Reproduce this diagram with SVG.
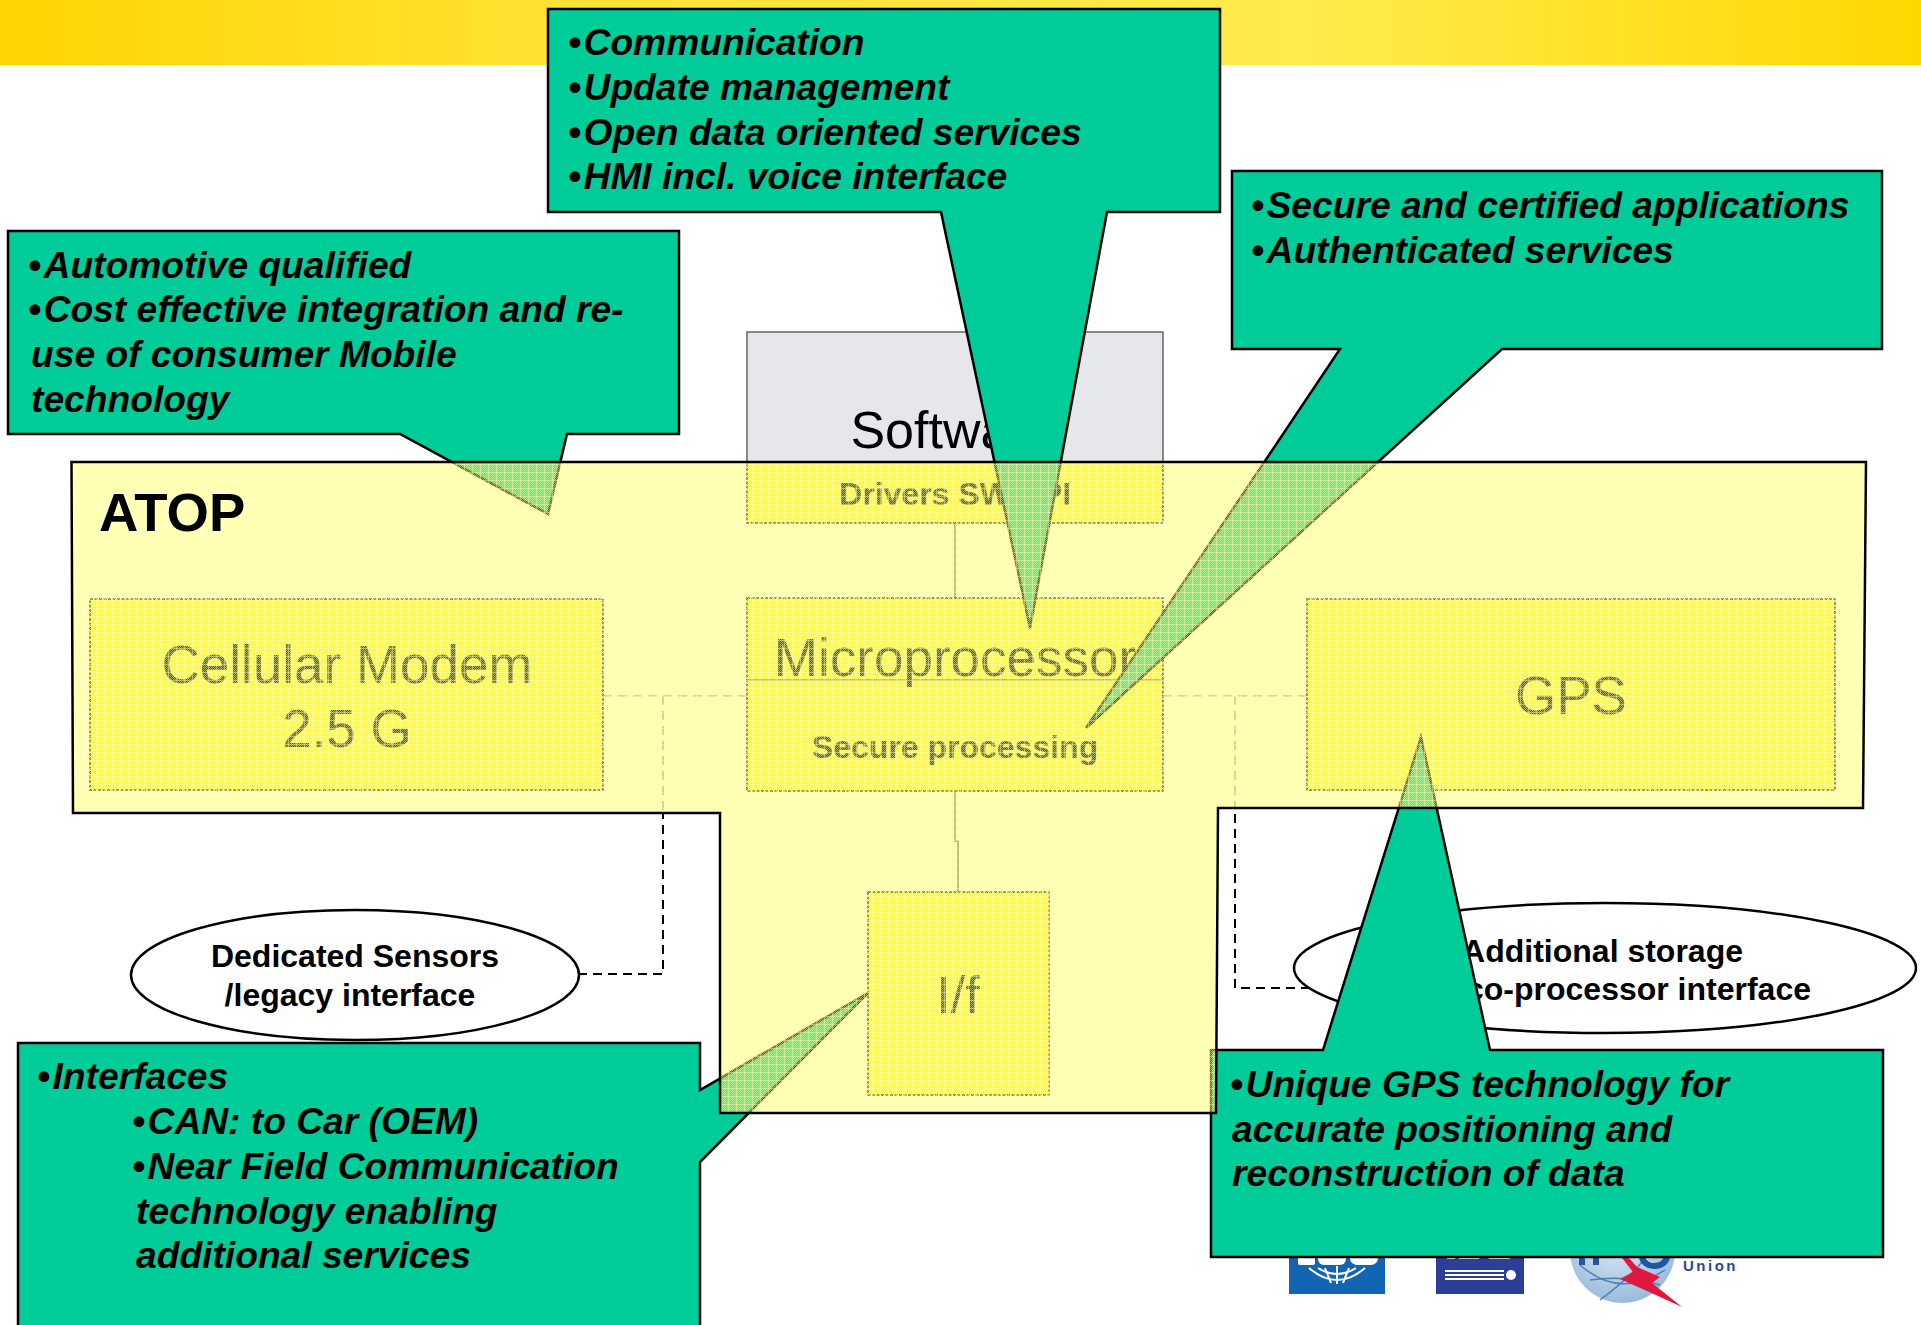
<svg xmlns="http://www.w3.org/2000/svg" width="1921" height="1325" viewBox="0 0 1921 1325">
<style>
text{font-family:"Liberation Sans",Arial,sans-serif;fill:#000}
.call{fill:#00cc99;stroke:#000;stroke-width:2.5;stroke-linejoin:miter}
.ct{font-size:37.2px;font-weight:bold;font-style:italic}
.box{fill:#ff0;stroke:#000;stroke-width:1.6;stroke-dasharray:3 1.5}
.big{font-size:53px;text-anchor:middle}
.mid{font-size:32px;font-weight:bold;text-anchor:middle}
.ell{fill:#fff;stroke:#000;stroke-width:2.5}
.el{font-size:32px;font-weight:bold}
.dash{fill:none;stroke:#000;stroke-width:2;stroke-dasharray:9 6}
.faint{fill:none;stroke:#888;stroke-width:1.5;stroke-dasharray:9 6}
.thin{fill:none;stroke:#555;stroke-width:1.5}
.wl{fill:none;stroke:#fff;stroke-width:2}
</style>
<defs>
<linearGradient id="band" x1="0" y1="0" x2="1" y2="0">
<stop offset="0" stop-color="#ffd500"/><stop offset=".3" stop-color="#ffe235"/><stop offset=".68" stop-color="#ffeb4d"/><stop offset="1" stop-color="#ffd700"/>
</linearGradient>
<radialGradient id="globe" cx=".45" cy=".35" r=".8"><stop offset="0" stop-color="#e4eef7"/><stop offset="1" stop-color="#88b0d6"/></radialGradient>
<pattern id="stipple" width="2" height="2" patternUnits="userSpaceOnUse">
<rect width="2" height="2" fill="#ffff94" fill-opacity=".35"/>
<rect width="1" height="1" fill="#ffff94" fill-opacity=".5"/><rect x="1" y="1" width="1" height="1" fill="#ffff94" fill-opacity=".5"/>
</pattern>
<pattern id="grid" width="8" height="8" patternUnits="userSpaceOnUse">
<rect width="8" height="1" fill="#ffffb0" fill-opacity=".45"/><rect width="1" height="8" fill="#ffffb0" fill-opacity=".45"/>
</pattern>
<polygon id="atop-shape" points="71.5,462 1866,462 1863,808 1218,808 1216,1113 720,1113 720,813 73,813"/>
</defs>
<rect width="1921" height="1325" fill="#fff"/>
<rect id="banner" width="1921" height="65" fill="url(#band)"/>
<g id="logos">
<rect x="1289" y="1250" width="96" height="44" fill="#1464b4"/>
<rect x="1298" y="1250" width="17" height="15" rx="2" fill="#fff"/><rect x="1318" y="1250" width="28" height="15" rx="6" fill="#fff"/><rect x="1350" y="1250" width="28" height="15" rx="7" fill="#fff"/>
<path class="wl" stroke-width="1.2" d="M1309 1268Q1337 1292 1365 1268M1318 1268Q1337 1280 1356 1268M1337 1266V1284M1325 1268L1331 1283M1349 1268L1343 1283"/>
<rect x="1436" y="1250" width="88" height="44" fill="#2c3e96"/>
<rect x="1447" y="1250" width="8" height="9" fill="#fff"/><rect x="1459" y="1250" width="20" height="9" fill="#fff"/><rect x="1487" y="1250" width="25" height="9" rx="4" fill="#fff"/>
<path class="wl" d="M1445 1271H1504M1445 1275H1504M1445 1279H1504"/>
<circle cx="1511" cy="1275" r="5" fill="#fff"/>
<circle cx="1622.5" cy="1250.5" r="52.5" fill="url(#globe)"/>
<path d="M1580 1265Q1620 1300 1665 1270M1600 1300Q1640 1270 1650 1250M1590 1280Q1625 1275 1660 1285" fill="none" stroke="#4b7fb4" stroke-width="1.5"/>
<path d="M1582 1250V1265M1596 1250V1265M1640 1250Q1642 1266 1654 1266Q1668 1266 1668 1250" fill="none" stroke="#1f57a6" stroke-width="6"/>
<polygon points="1622,1258 1633,1272 1620,1279 1647,1291 1682,1307 1652,1283 1660,1277 1637,1267 1628,1257" fill="#e0183f"/>
<text x="1683" y="1271" font-size="15" font-weight="bold" letter-spacing="2.5" style="fill:#2a4a90">Union</text>
</g>
<g id="connectors">
<path class="thin" d="M955 523V598M955 791V841H958V892"/>
<path class="faint" d="M603 696H747M1163 696H1307M663 696V813M1235 696V808"/>
<path class="dash" d="M578 974H663V813"/>
<path class="dash" d="M1310 988H1235V808"/>
</g>
<g id="sensors"><ellipse class="ell" cx="355" cy="975" rx="224" ry="65"/>
<text class="el" text-anchor="middle"><tspan x="355" y="967">Dedicated Sensors</tspan><tspan x="350" y="1006">/legacy interface</tspan></text></g>
<g id="storage"><ellipse class="ell" cx="1605" cy="968" rx="311" ry="65"/>
<text class="el" text-anchor="end"><tspan x="1743" y="962">Additional storage</tspan><tspan x="1811" y="1000">co-processor interface</tspan></text></g>
<g id="software"><rect x="747" y="332" width="416" height="130" fill="#e6e7ea" stroke="#666" stroke-width="1.5"/>
<text class="big" x="953" y="448" style="font-size:52px">Software</text></g>
<g id="drivers"><rect class="box" x="747" y="462" width="416" height="61"/><text class="mid" x="955" y="505">Drivers SW API</text></g>
<g id="modem"><rect class="box" x="90" y="599" width="513" height="191"/>
<text class="big"><tspan x="347" y="683">Cellular Modem</tspan><tspan x="347" y="747">2.5 G</tspan></text></g>
<g id="microprocessor"><rect class="box" x="747" y="598" width="416" height="193"/><path class="thin" d="M747 680H1164"/>
<text class="big" x="955" y="676">Microprocessor</text><text class="mid" x="955" y="758">Secure processing</text></g>
<g id="gps"><rect class="box" x="1307" y="599" width="528" height="191"/><text class="big" x="1571" y="714">GPS</text></g>
<g id="interface"><rect class="box" x="868" y="892" width="181" height="203"/><text class="big" x="958" y="1013" style="font-size:52px">I/f</text></g>
<g id="callout-auto"><polygon class="call" points="8,231 679,231 679,434 567,434 548,514 400,434 8,434"/>
<text class="ct"><tspan x="28" y="278">•</tspan><tspan dx="2.5">Automotive qualified</tspan><tspan x="28" y="322">•</tspan><tspan dx="2.5">Cost effective integration and re-</tspan><tspan x="31" y="367">use of consumer Mobile</tspan><tspan x="31" y="412">technology</tspan></text></g>
<g id="callout-comm"><polygon class="call" points="548,9 1220,9 1220,212 1107,212 1030,628 941,212 548,212"/>
<text class="ct"><tspan x="568" y="55">•</tspan><tspan dx="2.5">Communication</tspan><tspan x="568" y="100">•</tspan><tspan dx="2.5">Update management</tspan><tspan x="568" y="145">•</tspan><tspan dx="2.5">Open data oriented services</tspan><tspan x="568" y="189">•</tspan><tspan dx="2.5">HMI incl. voice interface</tspan></text></g>
<g id="callout-secure"><polygon class="call" points="1232,171 1882,171 1882,349 1502,349 1086,728 1340,349 1232,349"/>
<text class="ct"><tspan x="1251" y="218">•</tspan><tspan dx="2.5">Secure and certified applications</tspan><tspan x="1251" y="263">•</tspan><tspan dx="2.5">Authenticated services</tspan></text></g>
<g id="callout-if"><polygon class="call" points="18,1043 700,1043 700,1090 868,993 700,1162 700,1340 18,1340"/>
<text class="ct"><tspan x="37" y="1089">•</tspan><tspan dx="2.5">Interfaces</tspan><tspan x="132" y="1134">•</tspan><tspan dx="2.5">CAN: to Car (OEM)</tspan><tspan x="132" y="1179">•</tspan><tspan dx="2.5">Near Field Communication</tspan><tspan x="136" y="1224">technology enabling</tspan><tspan x="136" y="1268">additional services</tspan></text></g>
<g id="callout-gps"><polygon class="call" points="1211,1050 1323,1050 1421,737 1490,1050 1883,1050 1883,1257 1211,1257"/>
<text class="ct"><tspan x="1230" y="1097">•</tspan><tspan dx="2.5">Unique GPS technology for</tspan><tspan x="1232" y="1142">accurate positioning and</tspan><tspan x="1232" y="1186">reconstruction of data</tspan></text></g>
<g id="atop">
<use href="#atop-shape" fill="url(#stipple)"/>
<use href="#atop-shape" fill="url(#grid)"/>
<use href="#atop-shape" fill="none" stroke="#000" stroke-width="2.5"/>
<text x="99" y="531" font-size="54.5" font-weight="bold">ATOP</text>
</g>
</svg>
